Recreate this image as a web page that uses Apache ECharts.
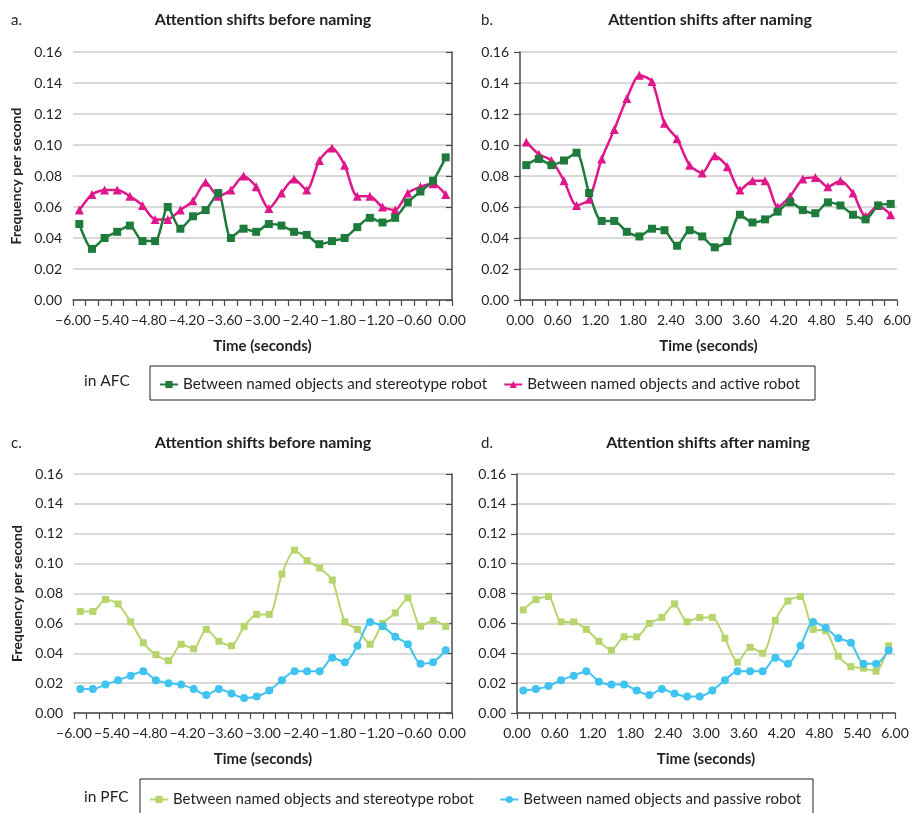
<!DOCTYPE html>
<html>
<head>
<meta charset="utf-8">
<script src="https://cdn.jsdelivr.net/npm/echarts@6/dist/echarts.min.js"></script>
<style>
  html, body { margin: 0; padding: 0; background: #fff; }
  #chart { width: 916px; height: 813px; }
</style>
</head>
<body>
<div id="chart"></div>
<script>
// time of each bin centre (seconds)
var timeBefore = [-5.9, -5.7, -5.5, -5.3, -5.1, -4.9, -4.7, -4.5, -4.3, -4.1, -3.9, -3.7, -3.5, -3.3, -3.1,
                  -2.9, -2.7, -2.5, -2.3, -2.1, -1.9, -1.7, -1.5, -1.3, -1.1, -0.9, -0.7, -0.5, -0.3, -0.1];
var timeAfter = [0.1, 0.3, 0.5, 0.7, 0.9, 1.1, 1.3, 1.5, 1.7, 1.9, 2.1, 2.3, 2.5, 2.7, 2.9,
                 3.1, 3.3, 3.5, 3.7, 3.9, 4.1, 4.3, 4.5, 4.7, 4.9, 5.1, 5.3, 5.5, 5.7, 5.9];

var xTicksBefore = ['\u22126.00', '\u22125.40', '\u22124.80', '\u22124.20', '\u22123.60', '\u22123.00',
                    '\u22122.40', '\u22121.80', '\u22121.20', '\u22120.60', '0.00'];
var xTicksAfter = ['0.00', '0.60', '1.20', '1.80', '2.40', '3.00', '3.60', '4.20', '4.80', '5.40', '6.00'];
var yTicks = ['0.00', '0.02', '0.04', '0.06', '0.08', '0.10', '0.12', '0.14', '0.16'];

// AFC
var afcStereoBefore = [0.049, 0.033, 0.040, 0.044, 0.048, 0.038, 0.038, 0.060, 0.046, 0.054, 0.058, 0.069, 0.040, 0.046, 0.044,
                       0.049, 0.048, 0.044, 0.042, 0.036, 0.038, 0.040, 0.047, 0.053, 0.050, 0.053, 0.063, 0.070, 0.077, 0.092];
var afcActiveBefore = [0.058, 0.068, 0.071, 0.071, 0.067, 0.061, 0.052, 0.052, 0.058, 0.064, 0.076, 0.067, 0.071, 0.080, 0.073,
                       0.059, 0.069, 0.078, 0.071, 0.090, 0.098, 0.087, 0.067, 0.067, 0.060, 0.058, 0.069, 0.073, 0.075, 0.068];
var afcStereoAfter = [0.087, 0.091, 0.087, 0.090, 0.095, 0.069, 0.051, 0.051, 0.044, 0.041, 0.046, 0.045, 0.035, 0.045, 0.041,
                      0.034, 0.038, 0.055, 0.050, 0.052, 0.057, 0.063, 0.058, 0.056, 0.063, 0.061, 0.055, 0.052, 0.061, 0.062];
var afcActiveAfter = [0.102, 0.094, 0.090, 0.077, 0.061, 0.065, 0.091, 0.110, 0.130, 0.145, 0.141, 0.114, 0.104, 0.087, 0.082,
                      0.093, 0.086, 0.071, 0.077, 0.077, 0.060, 0.067, 0.078, 0.079, 0.073, 0.077, 0.069, 0.054, 0.061, 0.055];
// PFC
var pfcStereoBefore = [0.068, 0.068, 0.076, 0.073, 0.061, 0.047, 0.039, 0.035, 0.046, 0.043, 0.056, 0.048, 0.045, 0.058, 0.066,
                       0.066, 0.093, 0.109, 0.102, 0.097, 0.089, 0.061, 0.056, 0.046, 0.060, 0.067, 0.077, 0.058, 0.062, 0.058];
var pfcPassiveBefore = [0.016, 0.016, 0.019, 0.022, 0.025, 0.028, 0.022, 0.020, 0.019, 0.016, 0.012, 0.016, 0.013, 0.010, 0.011,
                        0.015, 0.022, 0.028, 0.028, 0.028, 0.037, 0.034, 0.045, 0.061, 0.058, 0.051, 0.046, 0.033, 0.034, 0.042];
var pfcStereoAfter = [0.069, 0.076, 0.078, 0.061, 0.061, 0.056, 0.048, 0.042, 0.051, 0.051, 0.060, 0.064, 0.073, 0.061, 0.064,
                      0.064, 0.050, 0.034, 0.044, 0.040, 0.062, 0.075, 0.078, 0.056, 0.055, 0.038, 0.031, 0.030, 0.028, 0.045];
var pfcPassiveAfter = [0.015, 0.016, 0.018, 0.022, 0.025, 0.028, 0.021, 0.019, 0.019, 0.015, 0.012, 0.016, 0.013, 0.011, 0.011,
                       0.015, 0.022, 0.028, 0.028, 0.028, 0.037, 0.033, 0.045, 0.061, 0.057, 0.050, 0.047, 0.033, 0.033, 0.042];

var names = {
  stereo: 'Between named objects and stereotype robot',
  stereoPfc: 'Between named objects and stereotype robot ',
  active: 'Between named objects and active robot',
  passive: 'Between named objects and passive robot'
};

var ink = '#231f20';
var axisColor = '#4a4a4a';
var font = 'Lato, "Noto Sans", sans-serif';
var colors = { dark: '#1f7b3b', pink: '#e0168b', light: '#b6d56c', blue: '#41c3ef' };

var chart = echarts.init(document.getElementById('chart'));

function zip(xs, ys) {
  return xs.map(function (x, i) { return [x, ys[i]]; });
}

function makeX(grid, min, labels) {
  return {
    type: 'value', gridIndex: grid, min: min, max: min + 6, interval: 0.6,
    name: 'Time (seconds)', nameLocation: 'middle', nameGap: 39,
    nameTextStyle: { fontWeight: 'bold', fontSize: 15, color: ink, fontFamily: font },
    axisLine: { show: true, onZero: false, lineStyle: { color: axisColor, width: 1.5 } },
    axisTick: { show: true, length: 6, lineStyle: { color: axisColor, width: 1.2 } },
    minorTick: { show: true, splitNumber: 3, length: 6, lineStyle: { color: axisColor, width: 1.2 } },
    axisLabel: {
      margin: 13, fontSize: 14, color: ink, fontFamily: font,
      formatter: function (v) { return labels[Math.round((v - min) / 0.6)]; }
    },
    splitLine: { show: false }
  };
}

function makeY(grid, withName) {
  return {
    type: 'value', gridIndex: grid, min: 0, max: 0.16, interval: 0.02,
    name: withName ? 'Frequency per second' : '', nameLocation: 'middle', nameGap: 50,
    nameTextStyle: { fontWeight: 'bold', fontSize: 14, color: ink, fontFamily: font },
    axisLine: { show: true, lineStyle: { color: axisColor, width: 1.5 } },
    axisTick: { show: true, length: 6, lineStyle: { color: axisColor, width: 1.2 } },
    axisLabel: {
      margin: 11, fontSize: 14, color: ink, fontFamily: font,
      formatter: function (v) { return yTicks[Math.round(v / 0.02)]; }
    },
    splitLine: { lineStyle: { color: '#cdcdcd', width: 1.5 } }
  };
}

function line(name, grid, xs, ys, color, symbol, size, width) {
  return {
    name: name, type: 'line', xAxisIndex: grid, yAxisIndex: grid,
    data: zip(xs, ys), smooth: 0.25,
    symbol: symbol, symbolSize: size, showSymbol: true,
    lineStyle: { color: color, width: width },
    itemStyle: { color: color },
    emphasis: { disabled: true }
  };
}

var titleStyle = { fontSize: 16, fontWeight: 'bold', color: ink, fontFamily: font };
var letterStyle = { fontSize: 15, fontWeight: 'normal', color: ink, fontFamily: font };

option = {
  animation: false,
  textStyle: { fontFamily: font },
  title: [
    { text: 'Attention shifts before naming', left: 258, top: 7, textAlign: 'center', textStyle: titleStyle },
    { text: 'Attention shifts after naming', left: 705, top: 7, textAlign: 'center', textStyle: titleStyle },
    { text: 'Attention shifts before naming', left: 258, top: 430, textAlign: 'center', textStyle: titleStyle },
    { text: 'Attention shifts after naming', left: 703, top: 430, textAlign: 'center', textStyle: titleStyle },
    { text: 'a.', left: 6, top: 8, textStyle: letterStyle },
    { text: 'b.', left: 476, top: 8, textStyle: letterStyle },
    { text: 'c.', left: 6, top: 431, textStyle: letterStyle },
    { text: 'd.', left: 476, top: 431, textStyle: letterStyle }
  ],
  grid: [
    { left: 73, right: 464, top: 52, height: 248 },
    { left: 520, right: 19, top: 52, height: 248 },
    { left: 74, right: 464, top: 474, height: 239 },
    { left: 517, right: 21, top: 474, height: 239 }
  ],
  xAxis: [
    makeX(0, -6, xTicksBefore),
    makeX(1, 0, xTicksAfter),
    makeX(2, -6, xTicksBefore),
    makeX(3, 0, xTicksAfter)
  ],
  yAxis: [makeY(0, true), makeY(1, false), makeY(2, true), makeY(3, false)],
  legend: [
    {
      data: [names.stereo, names.active], left: 154, top: 372, itemGap: 16,
      itemWidth: 18, itemHeight: 9, selectedMode: false,
      textStyle: { fontSize: 15.2, color: ink, fontFamily: font }
    },
    {
      data: [names.stereoPfc, names.passive], left: 144, top: 787, itemGap: 22,
      itemWidth: 18, itemHeight: 9, selectedMode: false,
      textStyle: { fontSize: 15, color: ink, fontFamily: font }
    }
  ],
  graphic: [
    { type: 'rect', shape: { x: 150, y: 366, width: 665, height: 34 },
      style: { fill: 'none', stroke: ink, lineWidth: 1 } },
    { type: 'rect', shape: { x: 140, y: 779, width: 673, height: 40 },
      style: { fill: 'none', stroke: ink, lineWidth: 1 } },
    { type: 'text', left: 84, top: 373, style: { text: 'in AFC', fontSize: 15.5, fill: ink, fontFamily: font } },
    { type: 'text', left: 84, top: 789, style: { text: 'in PFC', fontSize: 15.5, fill: ink, fontFamily: font } }
  ],
  series: [
    line(names.active, 0, timeBefore, afcActiveBefore, colors.pink, 'triangle', 9, 2.5),
    line(names.stereo, 0, timeBefore, afcStereoBefore, colors.dark, 'rect', 8, 2.5),
    line(names.active, 1, timeAfter, afcActiveAfter, colors.pink, 'triangle', 9, 2.5),
    line(names.stereo, 1, timeAfter, afcStereoAfter, colors.dark, 'rect', 8, 2.5),
    line(names.stereoPfc, 2, timeBefore, pfcStereoBefore, colors.light, 'rect', 7, 2),
    line(names.passive, 2, timeBefore, pfcPassiveBefore, colors.blue, 'circle', 8, 2),
    line(names.stereoPfc, 3, timeAfter, pfcStereoAfter, colors.light, 'rect', 7, 2),
    line(names.passive, 3, timeAfter, pfcPassiveAfter, colors.blue, 'circle', 8, 2)
  ]
};

option && chart.setOption(option);
</script>
</body>
</html>
